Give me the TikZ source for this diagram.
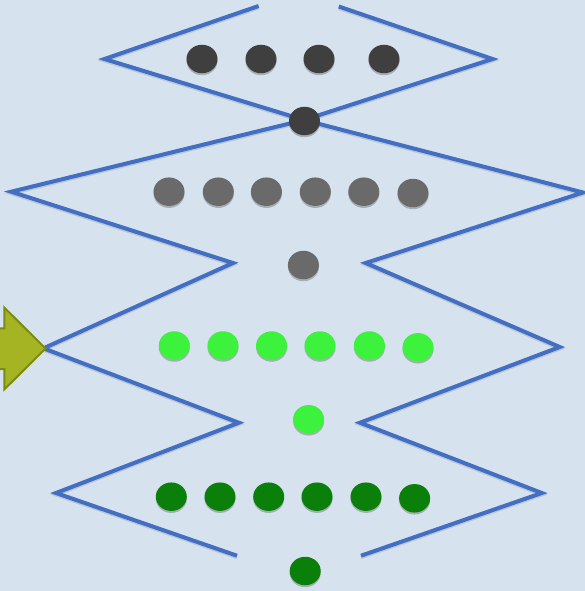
\documentclass[tikz,border=0pt]{standalone}
\usetikzlibrary{shapes.geometric,shadows}
\definecolor{bgc}{RGB}{214,227,238}
\definecolor{linec}{RGB}{66,110,196}
\definecolor{dotdark}{RGB}{63,63,63}
\definecolor{dotgray}{RGB}{106,106,106}
\definecolor{dotlight}{RGB}{60,242,60}
\definecolor{dotgreen}{RGB}{10,128,10}
\definecolor{arrfill}{RGB}{164,180,34}
\definecolor{arrline}{RGB}{126,139,18}
\tikzset{
  zig/.style={draw=linec, line width=4pt, line join=miter,
    preaction={draw=black!60, opacity=0.22, line width=4pt, transform canvas={yshift=-1.5pt}}},
  dotbase/.style={ellipse, minimum width=31pt, minimum height=28.5pt, inner sep=0pt,
    drop shadow={shadow xshift=0pt, shadow yshift=-2pt, opacity=0.35, fill=black!70}},
  dd/.style={dotbase, fill=dotdark},
  dg/.style={dotbase, fill=dotgray},
  dl/.style={dotbase, fill=dotlight},
  dk/.style={dotbase, fill=dotgreen},
  bigarrow/.style={fill=arrfill, draw=arrline, line width=2pt, line join=miter}
}
\begin{document}
\begin{tikzpicture}[x=1pt,y=-1pt]
\useasboundingbox (0,0) rectangle (585,591);
\fill[bgc] (0,0) rectangle (585,591);
\clip (0,0) rectangle (585,591);
% vertices
\coordinate (a0) at (258.6,6);
\coordinate (a1) at (104.5,59);
\coordinate (x) at (304,120);
\coordinate (a2) at (583,192.5);
\coordinate (a3) at (365.7,263);
\coordinate (a4) at (559.7,347);
\coordinate (a5) at (360,422.7);
\coordinate (a6) at (541.8,493);
\coordinate (a7) at (361,555.7);
\coordinate (b0) at (338.8,6.5);
\coordinate (b1) at (492.5,59);
\coordinate (b2) at (11.2,191.7);
\coordinate (b3) at (233,263);
\coordinate (b4) at (43.5,348.3);
\coordinate (b5) at (238.8,422.7);
\coordinate (b6) at (56,493);
\coordinate (b7) at (237,555.7);
\draw[zig] (a0) -- (a1) -- (x) -- (a2) -- (a3) -- (a4) -- (a5) -- (a6) -- (a7);
\draw[zig] (b0) -- (b1) -- (x) -- (b2) -- (b3) -- (b4) -- (b5) -- (b6) -- (b7);
% arrow
\coordinate (t) at (45.5,348.5);
\draw[bigarrow] (-5,328.3) -- (4.3,328.3) -- (4.3,307.5) -- (t) -- (4.3,389.5) -- (4.3,369) -- (-5,369) -- cycle;
% row 1
\node[dd] (r1a) at (202,59) {};
\node[dd] (r1b) at (261,59) {};
\node[dd] (r1c) at (319,59) {};
\node[dd] (r1d) at (384,59) {};
\node[dd] (c1) at (304.5,121) {};
% row 2
\node[dg] (r2a) at (169,191.7) {};
\node[dg] (r2b) at (218.3,191.7) {};
\node[dg] (r2c) at (266.4,191.7) {};
\node[dg] (r2d) at (315.3,191.7) {};
\node[dg] (r2e) at (363.8,191.7) {};
\node[dg] (r2f) at (413,193) {};
\node[dg] (c2) at (303.4,265) {};
% row 3
\node[dl] (r3a) at (174.3,345.5) {};
\node[dl] (r3b) at (223,345.5) {};
\node[dl] (r3c) at (271.6,345.5) {};
\node[dl] (r3d) at (320,345.5) {};
\node[dl] (r3e) at (369.4,345.5) {};
\node[dl] (r3f) at (418,347.3) {};
\node[dl] (c3) at (308.6,419.3) {};
% row 4
\node[dk] (r4a) at (171.3,496.7) {};
\node[dk] (r4b) at (220,496.7) {};
\node[dk] (r4c) at (268.7,496.7) {};
\node[dk] (r4d) at (317,496.7) {};
\node[dk] (r4e) at (366,496.7) {};
\node[dk] (r4f) at (414.6,498.3) {};
\node[dk] (c4) at (305.2,571) {};
\end{tikzpicture}
\end{document}
